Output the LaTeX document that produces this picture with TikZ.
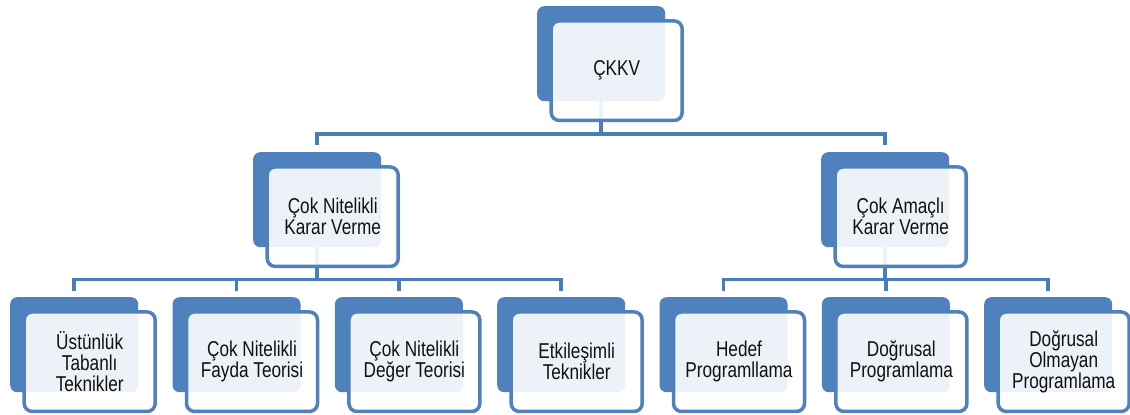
\documentclass[tikz,border=0pt]{standalone}
\usepackage{fontspec}
\setmainfont{Liberation Sans}
\newfontfamily\boxfont[FakeStretch=0.8]{Liberation Sans}
\usetikzlibrary{calc}
\definecolor{accent}{HTML}{4F81BD}
\definecolor{linec}{HTML}{4A7EBB}
\definecolor{txt}{HTML}{111111}
\begin{document}
\begin{tikzpicture}[x=1pt,y=-1pt,
  backbox/.style={rectangle,rounded corners=7pt,fill=accent,draw=none,
    minimum width=128pt,minimum height=95pt,inner sep=0pt,anchor=north west},
  frontbox/.style={rectangle,rounded corners=8pt,draw=accent,line width=3.5pt,
    fill=white,fill opacity=0.9,draw opacity=1,text opacity=1,text=txt,
    minimum width=131pt,minimum height=99.5pt,inner sep=2pt,align=center,
    font=\boxfont\fontsize{21.5}{21}\selectfont},
  conn/.style={draw=linec,line width=3.5pt}]
\useasboundingbox (0,0) rectangle (1130,415);
% back boxes
\node[backbox] (b0) at (537,6) {};
\node[backbox] (b1) at (253,152) {};
\node[backbox] (b2) at (821,152) {};
\node[backbox] (l1) at (10,297) {};
\node[backbox] (l2) at (172.3,297) {};
\node[backbox] (l3) at (334.7,297) {};
\node[backbox] (l4) at (497,297) {};
\node[backbox] (l5) at (659.3,297) {};
\node[backbox] (l6) at (821.7,297) {};
\node[backbox] (l7) at (984,297) {};
% bus coordinates
\coordinate (bus0) at (601,134);
\coordinate (bus1) at (317,279.5);
\coordinate (bus2) at (885,279.5);
% connectors
\foreach \c in {b1,b2}
  \draw[conn] (b0.south) -- (b0.south |- bus0) -| ([yshift=7pt]\c.north);
\foreach \c in {l1,l2,l3,l4}
  \draw[conn] (b1.south) -- (b1.south |- bus1) -| ([yshift=6pt]\c.north);
\foreach \c in {l5,l6,l7}
  \draw[conn] (b2.south) -- (b2.south |- bus2) -| ([yshift=6pt]\c.north);
% front boxes
\node[frontbox] (f0) at ($(b0.center)+(15.5,17)$) {ÇKKV};
\node[frontbox] (f1) at ($(b1.center)+(15.5,17)$) {Çok Nitelikli\\Karar Verme};
\node[frontbox] (f2) at ($(b2.center)+(15.5,17)$) {Çok Amaçlı\\Karar Verme};
\node[frontbox] (g1) at ($(l1.center)+(15.5,17)$) {Üstünlük\\Tabanlı\\Teknikler};
\node[frontbox] (g2) at ($(l2.center)+(15.5,17)$) {Çok Nitelikli\\Fayda Teorisi};
\node[frontbox] (g3) at ($(l3.center)+(15.5,17)$) {Çok Nitelikli\\Değer Teorisi};
\node[frontbox] (g4) at ($(l4.center)+(15.5,17)$) {Etkileşimli\\Teknikler};
\node[frontbox] (g5) at ($(l5.center)+(15.5,17)$) {Hedef\\Programllama};
\node[frontbox] (g6) at ($(l6.center)+(15.5,17)$) {Doğrusal\\Programlama};
\node[frontbox] (g7) at ($(l7.center)+(15.5,17)$) {Doğrusal\\Olmayan\\Programlama};
\end{tikzpicture}
\end{document}
